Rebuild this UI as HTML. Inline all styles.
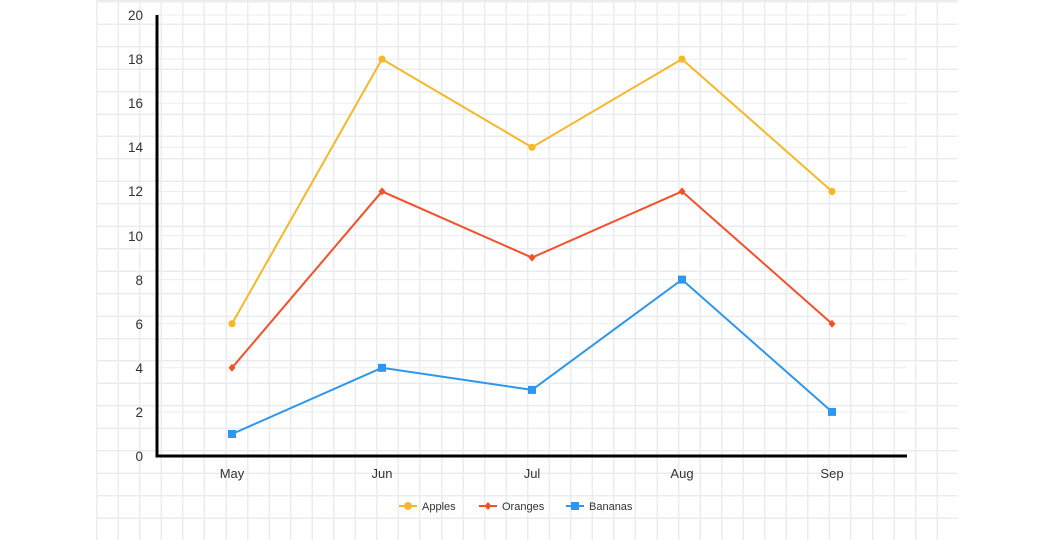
<!DOCTYPE html>
<html><head><style>
html,body{margin:0;padding:0;background:#fff;}
#bg{position:absolute;left:96px;top:0;width:862px;height:540px;
background-image:repeating-linear-gradient(90deg,#ebecf0 0,#ebecf0 1.5px,transparent 1.5px,transparent 21.55px),
repeating-linear-gradient(180deg,#ebecf0 0,#ebecf0 1.5px,transparent 1.5px,transparent 22.45px);
background-position:0 1px;}
svg{position:absolute;left:0;top:0;}
text{font-family:"Liberation Sans",sans-serif;fill:#333;}
</style></head><body>
<div id="bg"></div>
<svg width="1056" height="540">
<g stroke="#ededed" stroke-width="1">
<line x1="157" x2="907" y1="15" y2="15"/><line x1="157" x2="907" y1="59.1" y2="59.1"/>
<line x1="157" x2="907" y1="103.2" y2="103.2"/><line x1="157" x2="907" y1="147.3" y2="147.3"/>
<line x1="157" x2="907" y1="191.4" y2="191.4"/><line x1="157" x2="907" y1="235.5" y2="235.5"/>
<line x1="157" x2="907" y1="279.6" y2="279.6"/><line x1="157" x2="907" y1="323.7" y2="323.7"/>
<line x1="157" x2="907" y1="367.8" y2="367.8"/><line x1="157" x2="907" y1="411.9" y2="411.9"/>
</g>
<g font-size="13.5" text-anchor="end">
<text x="143" y="20">20</text><text x="143" y="64">18</text><text x="143" y="108">16</text>
<text x="143" y="152">14</text><text x="143" y="196">12</text><text x="143" y="241">10</text>
<text x="143" y="285">8</text><text x="143" y="329">6</text><text x="143" y="373">4</text>
<text x="143" y="417">2</text><text x="143" y="461">0</text>
</g>
<g font-size="13" text-anchor="middle">
<text x="232" y="478">May</text><text x="382" y="478">Jun</text><text x="532" y="478">Jul</text>
<text x="682" y="478">Aug</text><text x="832" y="478">Sep</text>
</g>
<path d="M157 15V456H907" fill="none" stroke="#000" stroke-width="3"/>
<polyline points="232,323.7 382,59.1 532,147.3 682,59.1 832,191.4" fill="none" stroke="#f6b829" stroke-width="2"/>
<g fill="#f6b829"><circle cx="232" cy="323.7" r="3.6"/><circle cx="382" cy="59.1" r="3.6"/><circle cx="532" cy="147.3" r="3.6"/><circle cx="682" cy="59.1" r="3.6"/><circle cx="832" cy="191.4" r="3.6"/></g>
<polyline points="232,367.8 382,191.4 532,257.6 682,191.4 832,323.7" fill="none" stroke="#f4502a" stroke-width="2"/>
<g fill="#f4502a">
<path d="M232 363.8l3.5 4-3.5 4-3.5-4z"/><path d="M382 187.4l3.5 4-3.5 4-3.5-4z"/><path d="M532 253.6l3.5 4-3.5 4-3.5-4z"/><path d="M682 187.4l3.5 4-3.5 4-3.5-4z"/><path d="M832 319.7l3.5 4-3.5 4-3.5-4z"/>
</g>
<polyline points="232,434 382,367.8 532,389.9 682,279.6 832,411.9" fill="none" stroke="#2d96ef" stroke-width="2"/>
<g fill="#2d96ef">
<rect x="228" y="430" width="8" height="8"/><rect x="378" y="363.8" width="8" height="8"/><rect x="528" y="385.9" width="8" height="8"/><rect x="678" y="275.6" width="8" height="8"/><rect x="828" y="407.9" width="8" height="8"/>
</g>
<g font-size="11">
<line x1="399" x2="417" y1="506" y2="506" stroke="#f6b829" stroke-width="2"/><circle cx="408" cy="506" r="4" fill="#f6b829"/>
<text x="422" y="510">Apples</text>
<line x1="479" x2="497" y1="506" y2="506" stroke="#f4502a" stroke-width="2"/><path d="M488 502l3.5 4-3.5 4-3.5-4z" fill="#f4502a"/>
<text x="502" y="510">Oranges</text>
<line x1="566" x2="584" y1="506" y2="506" stroke="#2d96ef" stroke-width="2"/><rect x="571" y="502" width="8" height="8" fill="#2d96ef"/>
<text x="589" y="510">Bananas</text>
</g>
</svg>
</body></html>
